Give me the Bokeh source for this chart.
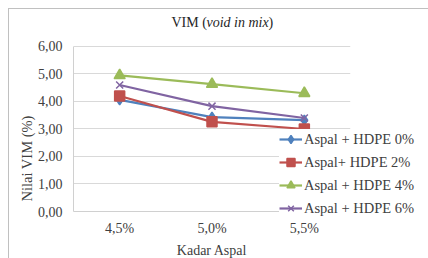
from bokeh.plotting import figure
from bokeh.models import Legend, LegendItem, Label, FixedTicker, Range1d, Title
from bokeh.embed import file_html
from bokeh.resources import INLINE

categories = ["4,5%", "5,0%", "5,5%"]
hdpe0 = [4.06, 3.43, 3.32]
hdpe2 = [4.20, 3.26, 3.00]
hdpe4 = [4.95, 4.63, 4.30]
hdpe6 = [4.60, 3.83, 3.40]
series_names = ["Aspal + HDPE 0%", "Aspal+ HDPE 2%", "Aspal + HDPE 4%", "Aspal + HDPE 6%"]
y_ticks = [0, 1, 2, 3, 4, 5, 6]
y_tick_labels = ["0,00", "1,00", "2,00", "3,00", "4,00", "5,00", "6,00"]

FONT = "Liberation Serif"
TXT = "#404040"
FS = "14px"

p = figure(x_range=categories, y_range=Range1d(0, 7.236), output_backend="svg",
           toolbar_location=None, width=419, height=249,
           frame_width=277, frame_height=199,
           min_border_left=64, min_border_top=3, min_border_bottom=47, min_border_right=78)
p.styles = {"margin-left": "8px", "margin-top": "8px",
            "border-left": "1px solid #c0c0c0", "border-top": "1px solid #c0c0c0"}
p.outline_line_color = None
p.background_fill_color = "white"
p.border_fill_color = "white"

p.xgrid.grid_line_color = None
p.ygrid.grid_line_color = "#d9d9d9"
p.yaxis.ticker = FixedTicker(ticks=y_ticks)
p.yaxis.bounds = (0, 6)
p.yaxis.major_label_overrides = {t: l for t, l in zip(y_ticks, y_tick_labels)}
for ax in (p.xaxis[0], p.yaxis[0]):
    ax.axis_line_color = "#d0d0d0"
    ax.major_tick_line_color = None
    ax.minor_tick_line_color = None
    ax.major_tick_out = 0
    ax.minor_tick_out = 0
    ax.major_label_text_font = FONT
    ax.major_label_text_font_size = FS
    ax.major_label_text_color = TXT
    ax.axis_label_text_font = FONT
    ax.axis_label_text_font_size = FS
    ax.axis_label_text_font_style = "normal"
    ax.axis_label_text_color = TXT
p.yaxis.major_label_standoff = 11
p.xaxis.major_label_standoff = 9
p.xaxis.axis_label = "Kadar Aspal"
p.xaxis.axis_label_standoff = 4

# y title placed lower than centre, like the reference
p.add_layout(Title(text="Nilai VIM (%)", align="left", offset=10, standoff=0,
                   text_font=FONT, text_font_size="14.5px", text_font_style="normal",
                   text_color=TXT), "left")

colors = ["#4F81BD", "#C0504D", "#9BBB59", "#8064A2"]
markers = ["diamond", "square", "triangle", "x"]
sizes = [10, 10, 11, 10]
data = [hdpe0, hdpe2, hdpe4, hdpe6]
items = []
for name, ys, c, m, s in zip(series_names, data, colors, markers, sizes):
    l = p.line(categories, ys, line_color=c, line_width=2.2)
    sc = p.scatter(categories, ys, marker=m, size=s, fill_color=c, line_color=c, line_width=1.5)
    items.append(LegendItem(label=name, renderers=[l, sc]))

legend = Legend(items=items, location=(-71, -7), background_fill_color="white",
                background_fill_alpha=1.0, border_line_color=None,
                label_text_font=FONT, label_text_font_size="14.5px", label_text_color=TXT,
                glyph_width=23, glyph_height=20, spacing=3, label_standoff=2,
                label_width=120, padding=2, margin=-36)
p.add_layout(legend, "right")

# Title with italic part
tfs = "14px"
ty = 189
p.add_layout(Label(x=98, y=ty, x_units="screen", y_units="screen", text="VIM (",
                   text_align="left", text_baseline="middle",
                   text_font=FONT, text_font_size=tfs, text_color="#262626"))
p.add_layout(Label(x=133, y=ty, x_units="screen", y_units="screen", text="void in mix",
                   text_align="left", text_baseline="middle", text_font_style="italic",
                   text_font=FONT, text_font_size=tfs, text_color="#262626"))
p.add_layout(Label(x=195, y=ty, x_units="screen", y_units="screen", text=")",
                   text_align="left", text_baseline="middle",
                   text_font=FONT, text_font_size=tfs, text_color="#262626"))

open("out.html", "w").write(file_html(p, INLINE))
